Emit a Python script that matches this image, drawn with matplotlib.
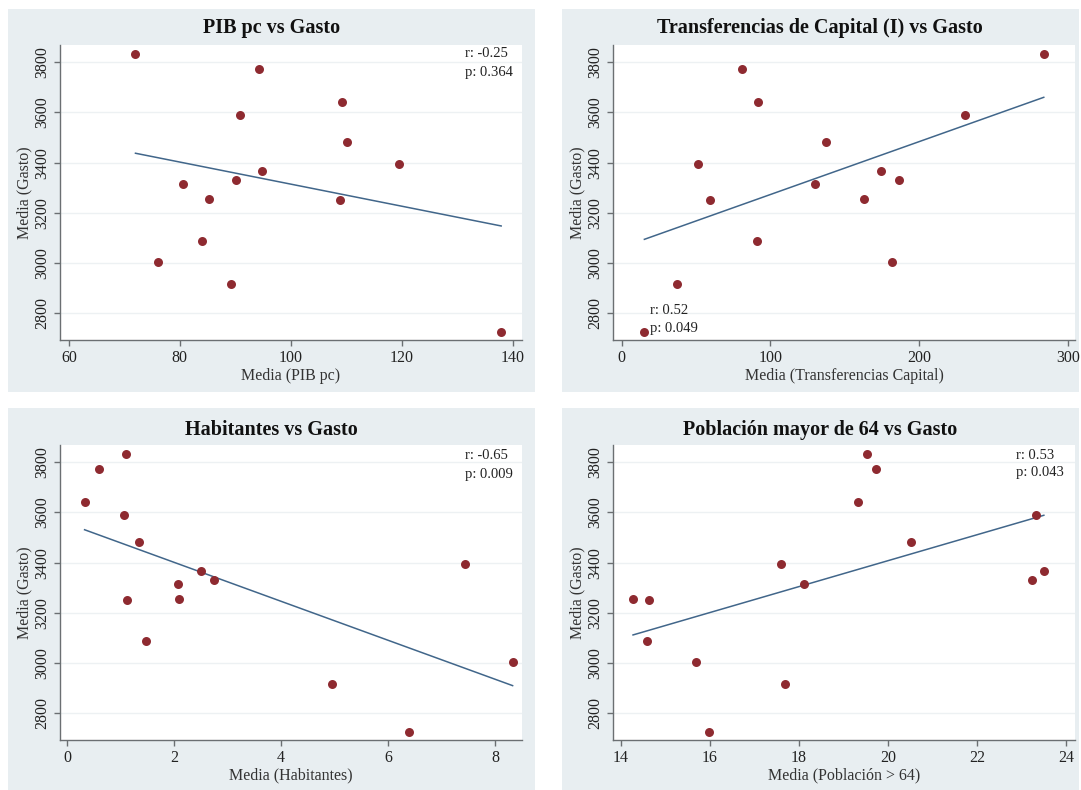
import matplotlib
matplotlib.use("Agg")
import matplotlib.pyplot as plt
from matplotlib.patches import Rectangle
import numpy as np

plt.rcParams['font.family'] = ['Liberation Serif', 'DejaVu Serif']

gasto = [3833, 3773, 3642, 3589, 3480, 3395, 3366, 3329, 3315, 3256, 3250, 3087, 3006, 2917, 2727]
pib_pc = [72.0, 94.2, 109.3, 90.9, 110.2, 119.5, 94.8, 90.1, 80.5, 85.3, 108.9, 84.0, 76.0, 89.2, 137.9]
transf = [283.8, 80.7, 91.6, 230.6, 137.1, 51.3, 174.2, 186.5, 130.2, 162.9, 59.4, 91.2, 181.7, 37.4, 15.3]
habit = [1.10, 0.59, 0.32, 1.06, 1.33, 7.44, 2.50, 2.75, 2.06, 2.09, 1.11, 1.46, 8.33, 4.95, 6.40]
pob64 = [19.53, 19.72, 19.33, 23.32, 20.51, 17.59, 23.50, 23.24, 18.11, 14.27, 14.63, 14.59, 15.68, 17.69, 15.98]

titles = ["PIB pc vs Gasto", "Transferencias de Capital (I) vs Gasto",
          "Habitantes vs Gasto", "Población mayor de 64 vs Gasto"]
xlabels = ["Media (PIB pc)", "Media (Transferencias Capital)",
           "Media (Habitantes)", "Media (Población > 64)"]
stats = [("r: -0.25", "p: 0.364"), ("r: 0.52", "p: 0.049"),
         ("r: -0.65", "p: 0.009"), ("r: 0.53", "p: 0.043")]
xticks = [[60, 80, 100, 120, 140], [0, 100, 200, 300],
          [0, 2, 4, 6, 8], [14, 16, 18, 20, 22, 24]]
yticks = [2800, 3000, 3200, 3400, 3600, 3800]

W, H = 1081, 790
fig = plt.figure(figsize=(W / 100, H / 100), dpi=100)
fig.patch.set_facecolor('white')

bg = '#e8eef1'
dot = '#8e2a30'
fitc = '#41668a'

# pixel layout: (bg box, axes box) as (x0, y0, x1, y1) from top-left
panels = [
    ((8, 9, 535, 392), (60, 45, 521.7, 340), (58.4, 141.6)),
    ((561.7, 9, 1079, 392), (613, 45, 1075, 340), (-5.8, 304.8)),
    ((8, 408, 535, 790), (60, 445, 521.7, 740), (-0.14, 8.5)),
    ((561.7, 408, 1079, 790), (613, 445, 1075, 740), (13.82, 24.2)),
]
stat_pos = [(0.877, 0.972, 0.908), (0.08, 0.10, 0.04),
            (0.877, 0.963, 0.90), (0.872, 0.964, 0.906)]
xs_all = [pib_pc, transf, habit, pob64]

for i, ((bx0, by0, bx1, by1), (ax0, ay0, ax1, ay1), xlim) in enumerate(panels):
    fig.patches.append(Rectangle((bx0 / W, 1 - by1 / H), (bx1 - bx0) / W, (by1 - by0) / H,
                                 transform=fig.transFigure, facecolor=bg,
                                 edgecolor='none', zorder=-10))
    ax = fig.add_axes([ax0 / W, 1 - ay1 / H, (ax1 - ax0) / W, (ay1 - ay0) / H])
    ax.set_zorder(1)
    ax.set_facecolor('white')
    x = np.array(xs_all[i])
    y = np.array(gasto)

    ax.scatter(x, y, s=42, color=dot, zorder=3, linewidths=0)
    b, a = np.polyfit(x, y, 1)
    xx = np.array([x.min(), x.max()])
    ax.plot(xx, a + b * xx, color=fitc, lw=1.1, zorder=2)

    ax.set_xlim(*xlim)
    ax.set_ylim(2694, 3868)
    ax.set_xticks(xticks[i])
    ax.set_yticks(yticks)
    ax.set_yticklabels([str(t) for t in yticks], rotation=90, va='center')
    ax.grid(axis='y', color='#edf1f3', lw=1)
    ax.set_axisbelow(True)
    for s in ['top', 'right']:
        ax.spines[s].set_visible(False)
    for s in ['left', 'bottom']:
        ax.spines[s].set_color('#6b6f72')
        ax.spines[s].set_linewidth(1.0)
    ax.tick_params(colors='#6b6f72', labelcolor='#222222', length=4, width=1, labelsize=11.5)
    ax.tick_params(axis='y', pad=3)
    ax.set_xlabel(xlabels[i], fontsize=11.5, color='#333333', labelpad=1)
    ax.set_ylabel("Media (Gasto)", fontsize=11.5, color='#333333', va='center')
    ax.yaxis.set_label_coords(-36 / (ax1 - ax0), 0.5)

    sx, sy1, sy2 = stat_pos[i]
    ax.text(sx, sy1, stats[i][0], transform=ax.transAxes, fontsize=10.5,
            color='#222222', va='center', ha='left')
    ax.text(sx, sy2, stats[i][1], transform=ax.transAxes, fontsize=10.5,
            color='#222222', va='center', ha='left')

    ty = 28 if i < 2 else 430
    fig.text((bx0 + bx1) / 2 / W, 1 - ty / H, titles[i], ha='center', va='center',
             fontsize=14.5, fontweight='bold', color='#111111')

fig.savefig("out.png", dpi=100)
